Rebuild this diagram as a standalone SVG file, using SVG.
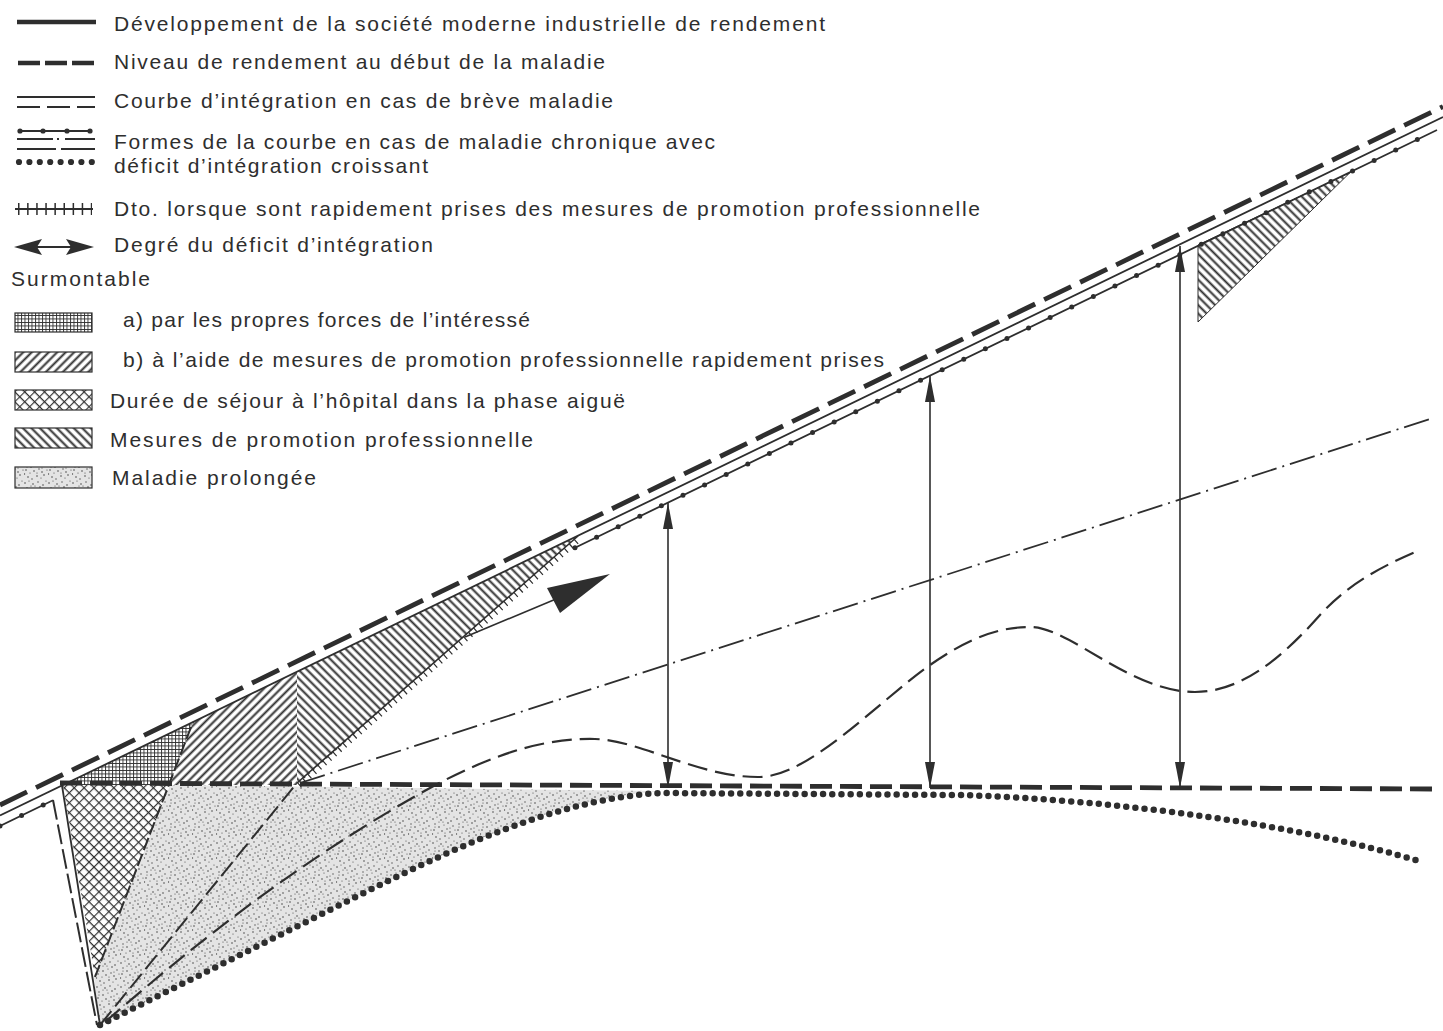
<svg xmlns="http://www.w3.org/2000/svg" width="1443" height="1031" viewBox="0 0 1443 1031">
<style>
.t{font-family:"Liberation Sans",Arial,sans-serif;font-size:21px;fill:#2e2e2e}
.ln{fill:none;stroke:#2e2e2e;stroke-linecap:butt}
.thick-dash{stroke-width:4.8;stroke-dasharray:30 10}
.hdash{stroke-width:4.8;stroke-dasharray:22 8}
.thin{stroke-width:1.8}
.dots{stroke-width:5;stroke-linecap:round;stroke-dasharray:0 24}
.heavydots{stroke-width:6.5;stroke-linecap:round;stroke-dasharray:0 9.2}
.legdots{stroke-width:6.2;stroke-linecap:round;stroke-dasharray:0 10.4}
.dashdot{stroke-width:1.8;stroke-dasharray:26 6 2 6}
.longdash{stroke-width:2.2;stroke-dasharray:20 8}
.meddash{stroke-width:2;stroke-dasharray:13 4}
.sw{stroke:#2e2e2e;stroke-width:1.2}
</style>
<defs>
<pattern id="grid" width="3.5" height="3.5" patternUnits="userSpaceOnUse">
<rect width="3.5" height="3.5" fill="#fff"/>
<path d="M0,0.5H3.5M0.5,0V3.5" stroke="#2e2e2e" stroke-width="0.9"/>
</pattern>
<pattern id="hatchF" width="6" height="6" patternUnits="userSpaceOnUse" patternTransform="rotate(45)">
<rect width="6" height="6" fill="#fff"/>
<line x1="1.5" y1="0" x2="1.5" y2="6" stroke="#2e2e2e" stroke-width="2"/>
</pattern>
<pattern id="hatchB" width="6" height="6" patternUnits="userSpaceOnUse" patternTransform="rotate(-45)">
<rect width="6" height="6" fill="#fff"/>
<line x1="1.5" y1="0" x2="1.5" y2="6" stroke="#2e2e2e" stroke-width="2"/>
</pattern>
<pattern id="cross" width="7" height="7" patternUnits="userSpaceOnUse" patternTransform="rotate(45)">
<rect width="7" height="7" fill="#fff"/>
<path d="M0,0.6H7M0.6,0V7" stroke="#2e2e2e" stroke-width="1.1"/>
</pattern>
<pattern id="stip" width="24" height="24" patternUnits="userSpaceOnUse">
<rect width="24" height="24" fill="#e4e4e4"/>
<g fill="#4a4a4a">
<circle cx="1" cy="3" r="0.8"/><circle cx="5" cy="1" r="0.6"/><circle cx="9" cy="4" r="0.8"/><circle cx="14" cy="2" r="0.7"/>
<circle cx="19" cy="5" r="0.8"/><circle cx="22" cy="1" r="0.6"/><circle cx="3" cy="8" r="0.7"/><circle cx="7" cy="11" r="0.8"/>
<circle cx="12" cy="9" r="0.6"/><circle cx="16" cy="7" r="0.8"/><circle cx="21" cy="10" r="0.7"/><circle cx="2" cy="14" r="0.8"/>
<circle cx="6" cy="17" r="0.6"/><circle cx="10" cy="15" r="0.8"/><circle cx="15" cy="13" r="0.7"/><circle cx="18" cy="16" r="0.8"/>
<circle cx="23" cy="14" r="0.6"/><circle cx="4" cy="21" r="0.8"/><circle cx="8" cy="23" r="0.7"/><circle cx="13" cy="20" r="0.8"/>
<circle cx="17" cy="22" r="0.6"/><circle cx="20" cy="19" r="0.8"/><circle cx="11" cy="6" r="0.6"/><circle cx="0.5" cy="18" r="0.7"/>
<circle cx="7" cy="6" r="0.6"/><circle cx="18" cy="12" r="0.6"/><circle cx="13" cy="17" r="0.6"/><circle cx="3" cy="11" r="0.6"/>
</g>
</pattern>
<marker id="ah" viewBox="0 0 26 10" refX="26" refY="5" markerWidth="26" markerHeight="10" markerUnits="userSpaceOnUse" orient="auto-start-reverse">
<path d="M0,0L26,5L0,10Z" fill="#2e2e2e"/>
</marker>
</defs>

<g id="legend">
<g id="leg-1">
<line class="ln" x1="17" y1="22" x2="96" y2="22" stroke-width="4.5"/>
<text class="t" x="114" y="31" textLength="711">Développement de la société moderne industrielle de rendement</text>
</g>
<g id="leg-2">
<line class="ln" x1="18" y1="63" x2="95" y2="63" stroke-width="4.5" stroke-dasharray="22 5"/>
<text class="t" x="114" y="69" textLength="491">Niveau de rendement au début de la maladie</text>
</g>
<g id="leg-3">
<line class="ln thin" x1="17" y1="97" x2="95" y2="97"/>
<line class="ln thin" x1="17" y1="107" x2="95" y2="107" stroke-dasharray="23 7"/>
<text class="t" x="114" y="108" textLength="499">Courbe d’intégration en cas de brève maladie</text>
</g>
<g id="leg-4">
<line class="ln thin" x1="18" y1="131" x2="92" y2="131"/>
<g fill="#2e2e2e"><circle cx="20" cy="131" r="2.6"/><circle cx="43" cy="131" r="2.6"/><circle cx="67" cy="131" r="2.6"/><circle cx="90" cy="131" r="2.6"/></g>
<path class="ln thin" d="M17,139H53M57,139H59M65,139H95"/>
<path class="ln thin" d="M17,149H56M61,149H95"/>
<line class="ln legdots" x1="19" y1="162" x2="92" y2="162"/>
<text class="t" x="114" y="149" textLength="601">Formes de la courbe en cas de maladie chronique avec</text>
<text class="t" x="114" y="173" textLength="314">déficit d’intégration croissant</text>
</g>
<g id="leg-5">
<line class="ln thin" x1="15" y1="209" x2="93" y2="209"/>
<line class="ln" x1="18" y1="209" x2="92" y2="209" stroke-width="12" stroke-dasharray="1.5 7.6"/>
<text class="t" x="114" y="216" textLength="866">Dto. lorsque sont rapidement prises des mesures de promotion professionnelle</text>
</g>
<g id="leg-6">
<line class="ln" x1="30" y1="247" x2="80" y2="247" stroke-width="2"/>
<path d="M14,247L42,239L37,247L42,255Z M94,247L66,239L71,247L66,255Z" fill="#2e2e2e"/>
<text class="t" x="114" y="252" textLength="319">Degré du déficit d’intégration</text>
</g>
<g id="leg-7">
<text class="t" x="11" y="286" textLength="139">Surmontable</text>
</g>
<g id="leg-a">
<rect class="sw" x="15" y="313" width="77" height="19" fill="url(#grid)"/>
<text class="t" x="123" y="327" textLength="407">a) par les propres forces de l’intéressé</text>
</g>
<g id="leg-b">
<rect class="sw" x="15" y="352" width="77" height="20" fill="url(#hatchF)"/>
<text class="t" x="123" y="367" textLength="761">b) à l’aide de mesures de promotion professionnelle rapidement prises</text>
</g>
<g id="leg-c">
<rect class="sw" x="15" y="390" width="77" height="20" fill="url(#cross)"/>
<text class="t" x="110" y="408" textLength="515">Durée de séjour à l’hôpital dans la phase aiguë</text>
</g>
<g id="leg-d">
<rect class="sw" x="15" y="428" width="77" height="20" fill="url(#hatchB)"/>
<text class="t" x="110" y="447" textLength="423">Mesures de promotion professionnelle</text>
</g>
<g id="leg-e">
<rect class="sw" x="15" y="467" width="77" height="21" fill="url(#stip)"/>
<text class="t" x="112" y="485" textLength="204">Maladie prolongée</text>
</g>
</g>

<g id="areas">
<path id="area-stipple" d="M170,785L660,791C540,800 420,865 300,925L100,1025L94,977Z" fill="url(#stip)"/>
<polygon id="area-cross" points="63,785 170,785 95,977" fill="url(#cross)"/>
<polygon id="area-grid" points="63,785 193,722 170,785" fill="url(#grid)"/>
<polygon id="area-hatchF" points="170,785 193,722 297,672 297,785" fill="url(#hatchF)"/>
<polygon id="area-hatchB" points="297,672 297,785 578,536" fill="url(#hatchB)"/>
<polygon id="area-hatchB2" points="1198,245 1198,322 1350,172.6" fill="url(#hatchB)" stroke="#2e2e2e" stroke-width="1"/>
</g>

<g id="connectors">
<line class="ln thick-dash" x1="0" y1="805" x2="1443" y2="106.6"/>
<line class="ln thin" x1="0" y1="815.5" x2="1443" y2="117"/>
<line class="ln thin" x1="0" y1="826" x2="53" y2="800.3"/>
<line class="ln dots" x1="0" y1="826" x2="53" y2="800.3" stroke-dasharray="0 26"/>
<line class="ln thin" x1="575" y1="547.7" x2="1437" y2="130"/>
<line class="ln dots" x1="575" y1="547.7" x2="1437" y2="130"/>
<line class="ln thin" x1="62" y1="785.5" x2="100" y2="1025"/>
<line class="ln" x1="53" y1="800" x2="97" y2="1025" stroke-width="2" stroke-dasharray="20 5"/>
<line class="ln" x1="297" y1="783" x2="578" y2="536" stroke-width="1.6"/>
<line class="ln" x1="299" y1="785.3" x2="578" y2="540" stroke-width="6" stroke-dasharray="1.2 5.5"/>
<line class="ln hdash" x1="60" y1="783" x2="1433" y2="789"/>
<line class="ln meddash" x1="95" y1="977" x2="193" y2="722"/>
<line class="ln" x1="100" y1="1025" x2="297" y2="783" stroke-width="2" stroke-dasharray="18 6"/>
<line class="ln dashdot" x1="300" y1="783" x2="1433" y2="418"/>
<path class="ln longdash" d="M105,1022C200,940 300,860 430,788C500,750 550,738 595,739C640,740 700,778 760,777C810,776 880,700 930,665C970,637 1000,627 1030,627C1070,627 1130,692 1195,692C1240,692 1280,660 1320,615C1350,582 1385,565 1420,550"/>
<path class="ln heavydots" d="M100,1025L300,925C420,865 540,800 660,793L960,795C1120,800 1300,825 1422,862"/>
<line class="ln" x1="465" y1="637" x2="556" y2="599" stroke-width="1.6"/>
<polygon points="610,574 547,588 560,613" fill="#2e2e2e"/>
<line class="ln" x1="668" y1="503" x2="668" y2="788" stroke-width="1.6" marker-start="url(#ah)" marker-end="url(#ah)"/>
<line class="ln" x1="930" y1="376" x2="930" y2="788" stroke-width="1.6" marker-start="url(#ah)" marker-end="url(#ah)"/>
<line class="ln" x1="1180" y1="246" x2="1180" y2="788" stroke-width="1.6" marker-start="url(#ah)" marker-end="url(#ah)"/>
</g>
</svg>
